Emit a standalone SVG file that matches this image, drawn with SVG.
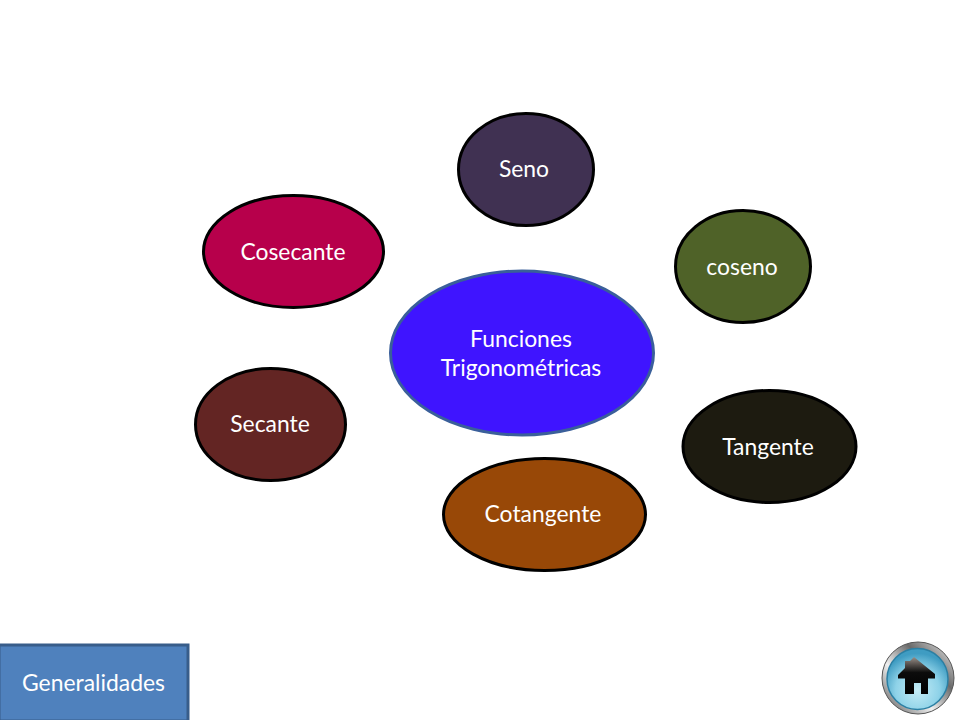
<svg xmlns="http://www.w3.org/2000/svg" width="960" height="720" viewBox="0 0 960 720">
<defs>
<radialGradient id="glass" cx="50%" cy="68%" r="60%"><stop offset="0" stop-color="#c4ecf6"/><stop offset="0.6" stop-color="#8ed2e8"/><stop offset="1" stop-color="#3f9cc2"/></radialGradient>
<linearGradient id="ring" x1="0.1" y1="0.9" x2="0.9" y2="0.1"><stop offset="0" stop-color="#777"/><stop offset="0.35" stop-color="#f0f0f0"/><stop offset="0.7" stop-color="#6a6a6a"/><stop offset="1" stop-color="#c8c8c8"/></linearGradient>
<linearGradient id="roof" x1="0" y1="0" x2="0" y2="1"><stop offset="0" stop-color="#9a8f88"/><stop offset="0.42" stop-color="#0c0c0c"/><stop offset="1" stop-color="#000"/></linearGradient>
</defs>
<style>
text{font-family:"Lato","Liberation Sans",sans-serif;font-size:22.900px;fill:#fff;text-anchor:middle}
.n{stroke:#000;stroke-width:3}
</style>
<rect width="960" height="720" fill="#fff"/>
<g id="connectors"/>
<g id="seno"><ellipse class="n" cx="526" cy="169.500" rx="67.500" ry="56" fill="#403152"/><text x="524" y="177">Seno</text></g>
<g id="coseno"><ellipse class="n" cx="743" cy="266.500" rx="67.500" ry="56" fill="#4f6228"/><text x="742" y="275">coseno</text></g>
<g id="cosecante"><ellipse class="n" cx="293.500" cy="251.500" rx="90" ry="56" fill="#b7004b"/><text x="293" y="260">Cosecante</text></g>
<g id="secante"><ellipse class="n" cx="270.500" cy="424.500" rx="75" ry="56" fill="#632523"/><text x="270" y="432">Secante</text></g>
<g id="tangente"><ellipse class="n" cx="769.500" cy="446.500" rx="86.500" ry="56" fill="#1d1b10"/><text x="768" y="455">Tangente</text></g>
<g id="cotangente"><ellipse class="n" cx="544.500" cy="514.500" rx="101" ry="56" fill="#984807"/><text x="543" y="522">Cotangente</text></g>
<g id="funciones"><ellipse cx="522" cy="353" rx="131.500" ry="82" fill="#3f14ff" stroke="#3a5f9a" stroke-width="3"/><text x="521" y="347">Funciones</text><text x="521" y="376">Trigonométricas</text></g>
<g id="generalidades"><rect x="-1" y="645" width="189" height="76" fill="#4f81bd" stroke="#385d8a" stroke-width="3"/><text x="93.500" y="691">Generalidades</text></g>
<g id="home">
<circle cx="918" cy="678" r="36" fill="url(#ring)" stroke="#555" stroke-width="1"/>
<circle cx="917.500" cy="679" r="30.500" fill="url(#glass)" stroke="#2b7fa3" stroke-width="1.500"/>
<path d="M914 657 L935 674 L935 678.500 L928 678.500 L928 694 L921 694 L921 683 L914 683 L914 694 L905 694 L905 678.500 L898 678.500 L898 675 L905 668 L905 661 L910 661 Z" fill="url(#roof)"/>
</g>
</svg>
